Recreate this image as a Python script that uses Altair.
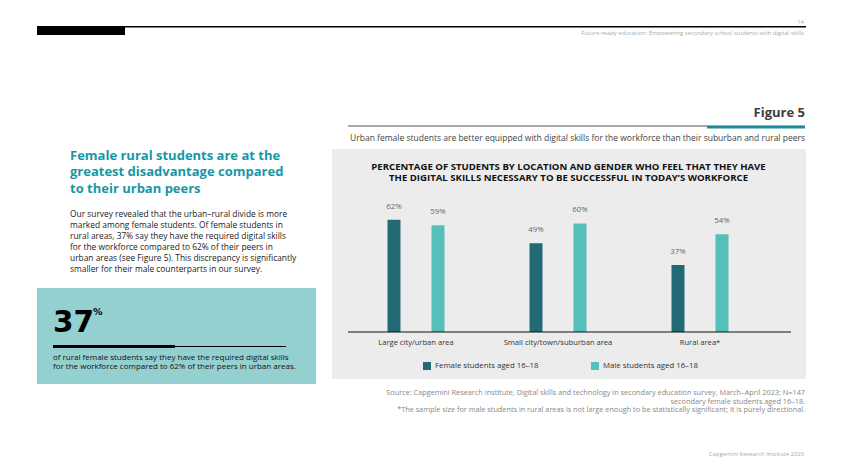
import altair as alt
import pandas as pd

# ---- data ----
categories = ["Large city/urban area", "Small city/town/suburban area", "Rural area*"]
groups = ["Female students aged 16–18", "Male students aged 16–18"]
female = [62, 49, 37]
male = [59, 60, 54]
bar_colors = ["#226b75", "#55bfba"]

heading_lines = ["Female rural students are at the", "greatest disadvantage compared", "to their urban peers"]
body_lines = [
    "Our survey revealed that the urban–rural divide is more",
    "marked among female students. Of female students in",
    "rural areas, 37% say they have the required digital skills",
    "for the workforce compared to 62% of their peers in",
    "urban areas (see Figure 5). This discrepancy is significantly",
    "smaller for their male counterparts in our survey.",
]
box_lines = [
    "of rural female students say they have the required digital skills",
    "for the workforce compared to 62% of their peers in urban areas.",
]
chart_title = [
    "PERCENTAGE OF STUDENTS BY LOCATION AND GENDER WHO FEEL THAT THEY HAVE",
    "THE DIGITAL SKILLS NECESSARY TO BE SUCCESSFUL IN TODAY’S WORKFORCE",
]
subtitle = "Urban female students are better equipped with digital skills for the workforce than their suburban and rural peers"
source_lines = [
    "Source: Capgemini Research Institute, Digital skills and technology in secondary education survey, March–April 2023; N=147",
    "secondary female students aged 16–18.",
    "*The sample size for male students in rural areas is not large enough to be statistically significant; it is purely directional.",
]
header_text = "Future-ready education: Empowering secondary school students with digital skills"
footer_text = "Capgemini Research Institute 2023"

rows = []
for c, f, m in zip(categories, female, male):
    rows.append({"location": c, "group": groups[0], "value": f})
    rows.append({"location": c, "group": groups[1], "value": m})
df = pd.DataFrame(rows)

# ---- layout ----
OX, OY = 345, 151   # plot-area origin on the page
W, H = 426, 181
FONT = "Open Sans"
one = pd.DataFrame({"k": [0]})


def rect(x0, y0, x1, y1, color):
    return alt.Chart(one).mark_rect(color=color).encode(
        x=alt.value(x0 - OX), x2=alt.value(x1 - OX),
        y=alt.value(y0 - OY), y2=alt.value(y1 - OY))


def text(x, y, t, size, color, align="left", weight="normal", lh=None, baseline="middle", font=FONT):
    kw = dict(font=font, fontSize=size, color=color, align=align,
              baseline=baseline, fontWeight=weight)
    if lh:
        kw["lineHeight"] = lh
    return alt.Chart(one).mark_text(**kw).encode(
        x=alt.value(x - OX), y=alt.value(y - OY), text=alt.value(t))


decor = [
    rect(37, 26, 806, 27.5, "#000000"),
    rect(37, 27, 125, 35, "#000000"),
    text(804, 22, "14", 5.9, "#aaaaaa", align="right"),
    text(804, 33.3, header_text, 5.9, "#aaaaaa", align="right"),
    text(70, 155.7, heading_lines, 13, "#1797a6", weight="bold", lh=16.7),
    text(70, 214, body_lines, 8.4, "#222222", lh=11.06),
    rect(37, 288, 316, 384, "#94d0cf"),
    text(53, 332, "37", 29.5, "#000000", weight="bold", baseline="alphabetic", font="DejaVu Sans"),
    text(93, 315, "%", 9.5, "#000000", weight="bold", baseline="alphabetic", font="DejaVu Sans"),
    rect(53, 345, 175, 348, "#000000"),
    rect(175, 346, 286, 347, "#000000"),
    text(53, 357.5, box_lines, 8.0, "#111111", lh=9.4),
    text(805, 113, "Figure 5", 13, "#3d3d3d", align="right", weight="bold"),
    rect(348, 125.5, 805, 126.5, "#555555"),
    rect(707, 126, 805, 128.5, "#1a8a99"),
    text(805, 137.7, subtitle, 8.5, "#444444", align="right"),
    rect(332, 149, 806, 379, "#ececec"),
    text(568.5, 166.7, chart_title, 9.6, "#111111", align="center", weight="bold", lh=11.6),
    text(805, 393, source_lines, 7.3, "#888888", align="right", lh=8.6),
    text(804, 454, footer_text, 5.9, "#aaaaaa", align="right"),
]

x_enc = alt.X(
    "location:N", sort=categories,
    scale=alt.Scale(paddingInner=0, paddingOuter=0),
    axis=alt.Axis(title=None, domain=False, ticks=False, labelAngle=0, labelFont=FONT,
                  labelFontSize=7.6, labelColor="#333333", labelPadding=6, grid=False,
                  labelOverlap=False, zindex=2),
)
xoff = alt.XOffset("group:N", sort=groups, scale=alt.Scale(paddingInner=0.705, paddingOuter=0.966))
y_enc = alt.Y("value:Q", scale=alt.Scale(domain=[0, 100]), axis=None)
color_enc = alt.Color(
    "group:N", sort=groups,
    scale=alt.Scale(domain=groups, range=bar_colors),
    legend=alt.Legend(title=None, orient="none", legendX=78, legendY=211, direction="horizontal",
                      symbolType="square", symbolSize=64, symbolStrokeWidth=0, symbolOpacity=1,
                      labelFont=FONT, labelFontSize=7.8, labelColor="#333333",
                      columnPadding=52, padding=0, labelOffset=4),
)

bars = alt.Chart(df).mark_bar().encode(x=x_enc, xOffset=xoff, y=y_enc, color=color_enc)
labels = alt.Chart(df).transform_calculate(label="datum.value + '%'").mark_text(
    font=FONT, fontSize=7.8, color="#666666", baseline="middle", dy=-13
).encode(x=x_enc, xOffset=xoff, y=y_enc, text="label:N")

baseline = rect(348, 331.5, 791, 332.5, "#111111")

chart = alt.layer(*decor, bars, labels, baseline).properties(
    width=W, height=H,
    padding={"left": OX - 8, "top": OY - 8, "right": 826 - (OX - 8) - W, "bottom": 457 - (OY - 8) - H},
    autosize=alt.AutoSizeParams(type="none"),
).configure_view(stroke=None).configure(background="#ffffff")

chart.save("out.html", embed_options={"renderer": "svg", "actions": False})
